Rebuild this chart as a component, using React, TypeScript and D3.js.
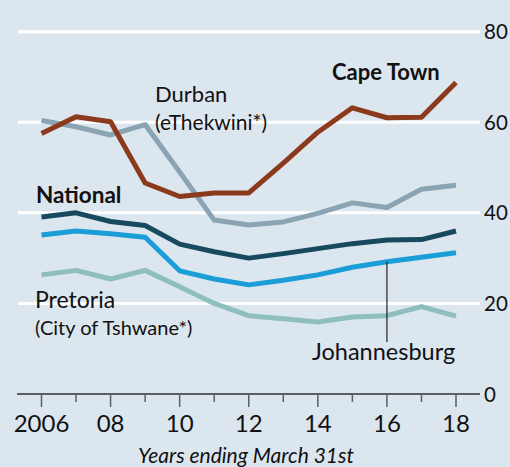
import React from "react";
import * as d3 from "d3";

const years = [2006, 2007, 2008, 2009, 2010, 2011, 2012, 2013, 2014, 2015, 2016, 2017, 2018];
const capeTown = [57.5, 61.2, 60.1, 46.6, 43.6, 44.4, 44.4, 51, 57.8, 63.2, 61, 61.1, 68.8];
const durban = [60.4, 59, 57.2, 59.5, 49, 38.4, 37.3, 38, 39.9, 42.2, 41.2, 45.2, 46.1];
const national = [39.1, 40, 38.1, 37.2, 33.1, 31.4, 30, 31, 32.1, 33.2, 34, 34.1, 36];
const johannesburg = [35.1, 36, 35.4, 34.6, 27.2, 25.4, 24.1, 25.1, 26.3, 28, 29.2, 30.2, 31.2];
const pretoria = [26.3, 27.3, 25.4, 27.3, 23.7, 20, 17.3, 16.6, 15.9, 17, 17.3, 19.3, 17.2];
const yTicks = [0, 20, 40, 60, 80];
const xTickLabels = ["2006", "08", "10", "12", "14", "16", "18"];
const xTickYears = [2006, 2008, 2010, 2012, 2014, 2016, 2018];

const W = 510;
const H = 467;
const FONT = "Lato, 'Noto Sans', sans-serif";

export default function App() {
  const x = d3.scaleLinear().domain([2006, 2018]).range([41.5, 456]);
  const y = d3.scaleLinear().domain([0, 80]).range([394, 31.7]);
  const line = d3
    .line<number>()
    .x((_, i) => x(years[i]))
    .y((d) => y(d))
    .curve(d3.curveLinear);

  const series = [
    { data: pretoria, color: "#8ebfbe" },
    { data: johannesburg, color: "#1b9dd8" },
    { data: national, color: "#174a5e" },
    { data: durban, color: "#8aa4b4" },
    { data: capeTown, color: "#8b3a1c" },
  ];

  const minorYears = d3.range(2006, 2019);

  return (
    <svg
      width={W}
      height={H}
      style={{ position: "fixed", left: 0, top: 0, background: "#dce6ef" }}
      fontFamily={FONT}
    >
      <rect x={0} y={0} width={W} height={H} fill="#dce6ef" />
      {yTicks
        .filter((t) => t > 0)
        .map((t) => (
          <line key={t} x1={18} x2={480} y1={y(t)} y2={y(t)} stroke="#ffffff" strokeWidth={3} />
        ))}
      {yTicks.map((t) => (
        <text key={t} x={484} y={y(t) + 7.5} fontSize={20.5} fill="#111">
          {t}
        </text>
      ))}
      {/* axis */}
      <line x1={17} x2={480} y1={y(0)} y2={y(0)} stroke="#5a5f63" strokeWidth={2} />
      {minorYears.map((yr) => (
        <line
          key={yr}
          x1={x(yr)}
          x2={x(yr)}
          y1={y(0)}
          y2={y(0) + (yr % 2 === 0 ? 13 : 8)}
          stroke="#5a5f63"
          strokeWidth={1.5}
        />
      ))}
      {xTickYears.map((yr, i) => (
        <text key={yr} x={x(yr)} y={432} fontSize={24} textAnchor="middle" fill="#111">
          {xTickLabels[i]}
        </text>
      ))}
      <text x={246} y={463} fontSize={21} fontStyle="italic" textAnchor="middle" fill="#111">
        Years ending March 31st
      </text>

      {series.map((s, i) => (
        <path
          key={i}
          d={line(s.data) || ""}
          fill="none"
          stroke={s.color}
          strokeWidth={5}
          strokeLinejoin="round"
          strokeLinecap="butt"
        />
      ))}

      {/* Johannesburg leader */}
      <line x1={x(2016)} x2={x(2016)} y1={y(johannesburg[10])} y2={342} stroke="#222" strokeWidth={1.2} />

      {/* labels */}
      <text x={155} y={102} fontSize={22} fill="#111">Durban</text>
      <text x={155} y={130} fontSize={21} fill="#111">(eThekwini*)</text>
      <text x={332} y={80} fontSize={22} fontWeight="bold" fill="#111">Cape Town</text>
      <text x={36} y={203} fontSize={22.5} fontWeight="bold" fill="#111">National</text>
      <text x={35} y={308} fontSize={23} fill="#111">Pretoria</text>
      <text x={35} y={335} fontSize={20} fill="#111">(City of Tshwane*)</text>
      <text x={312} y={360} fontSize={23.5} fill="#111">Johannesburg</text>
    </svg>
  );
}
